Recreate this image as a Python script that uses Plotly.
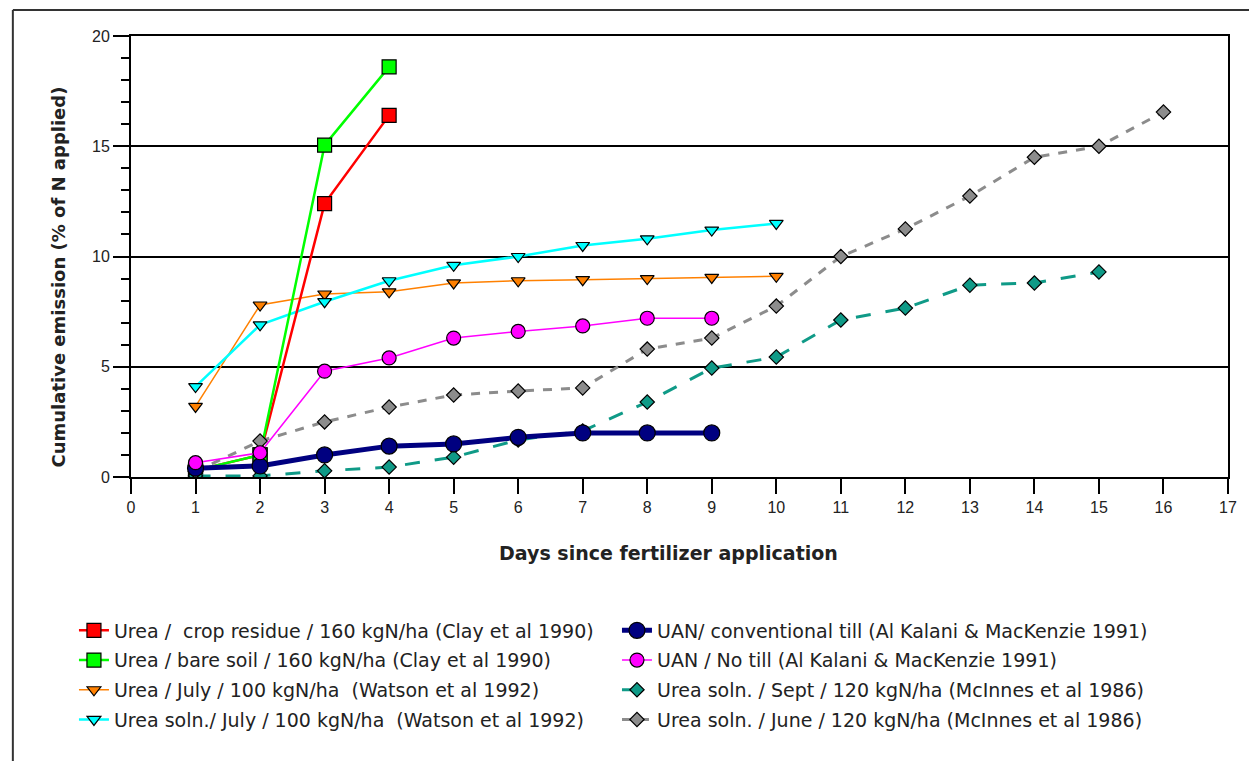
import plotly.graph_objects as go

days_4 = [1, 2, 3, 4]
days_9 = [1, 2, 3, 4, 5, 6, 7, 8, 9]
days_10 = [1, 2, 3, 4, 5, 6, 7, 8, 9, 10]
days_15 = list(range(1, 16))
days_16 = list(range(1, 17))

urea_residue = [0.3, 1.0, 12.4, 16.4]
urea_bare = [0.3, 1.0, 15.05, 18.6]
urea_july = [3.2, 7.8, 8.3, 8.4, 8.8, 8.9, 8.95, 9.0, 9.05, 9.1]
urea_soln_july = [4.1, 6.9, 7.95, 8.9, 9.6, 10.0, 10.5, 10.8, 11.2, 11.5]
uan_conv = [0.4, 0.5, 1.0, 1.4, 1.5, 1.8, 2.0, 2.0, 2.0]
uan_notill = [0.65, 1.1, 4.8, 5.4, 6.3, 6.6, 6.85, 7.2, 7.2]
soln_sept = [0.05, 0.05, 0.28, 0.45, 0.9, 1.68, 2.09, 3.4, 4.94, 5.44, 7.12, 7.66, 8.7, 8.8, 9.3]
soln_june = [0.25, 1.63, 2.5, 3.17, 3.72, 3.9, 4.04, 5.8, 6.3, 7.75, 10.0, 11.25, 12.74, 14.5, 15.0, 16.55]

labels = [
    "Urea /  crop residue / 160 kgN/ha (Clay et al 1990)",
    "Urea / bare soil / 160 kgN/ha (Clay et al 1990)",
    "Urea / July / 100 kgN/ha  (Watson et al 1992)",
    "Urea soln./ July / 100 kgN/ha  (Watson et al 1992)",
    "UAN/ conventional till (Al Kalani & MacKenzie 1991)",
    "UAN / No till (Al Kalani & MacKenzie 1991)",
    "Urea soln. / Sept / 120 kgN/ha (McInnes et al 1986)",
    "Urea soln. / June / 120 kgN/ha (McInnes et al 1986)",
]

x_title = "Days since fertilizer application"
y_title = "Cumulative emission (% of N applied)"

x_ticks = list(range(0, 18))
y_ticks = [0, 5, 10, 15, 20]

fig = go.Figure()

def add(x, y, name, color, width, dash, symbol, size, legend, rank):
    fig.add_trace(go.Scatter(
        x=x, y=y, name=name, mode="lines+markers",
        line=dict(color=color, width=width, dash=dash),
        marker=dict(symbol=symbol, size=size, color=color,
                    line=dict(color="black", width=1.2)),
        legend=legend, legendrank=rank, legendgroup=name,
    ))

add(days_10, urea_july, labels[2], "#ff8000", 1.5, "solid", "triangle-down", 12, "legend", 3)
add(days_10, urea_soln_july, labels[3], "#00ffff", 2.5, "solid", "triangle-down", 12, "legend", 4)
add(days_4, urea_residue, labels[0], "#ff0000", 2.5, "solid", "square", 14, "legend", 1)
add(days_4, urea_bare, labels[1], "#00ff00", 2.5, "solid", "square", 14, "legend", 2)
add(days_15, soln_sept, labels[6], "#0f9a87", 3, "longdash", "diamond", 11, "legend2", 3)
add(days_16, soln_june, labels[7], "#8c8c8c", 3, "dash", "diamond", 11, "legend2", 4)
add(days_9, uan_conv, labels[4], "#000080", 5, "solid", "circle", 16, "legend2", 1)
add(days_9, uan_notill, labels[5], "#ff00ff", 1.5, "solid", "circle", 14, "legend2", 2)

legend_font = "DejaVu Sans, Liberation Sans, sans-serif"
tick_font = "Liberation Sans, Arial, sans-serif"
text_color = "#222222"

fig.update_layout(
    width=1249, height=761,
    margin=dict(l=131, r=13, t=36, b=284),
    paper_bgcolor="white", plot_bgcolor="white",
    font=dict(family=tick_font, size=16, color=text_color),
    showlegend=True,
    legend=dict(x=-0.052, y=-0.305, xanchor="left", yanchor="top",
                font=dict(family=legend_font, size=19, color=text_color),
                itemwidth=30, tracegroupgap=2,
                traceorder="grouped", bgcolor="rgba(0,0,0,0)"),
    legend2=dict(x=0.443, y=-0.305, xanchor="left", yanchor="top",
                 font=dict(family=legend_font, size=19, color=text_color),
                 itemwidth=30, tracegroupgap=2,
                 traceorder="grouped", bgcolor="rgba(0,0,0,0)"),
    xaxis=dict(
        range=[0, 17], tickvals=x_ticks, ticktext=[str(v) for v in x_ticks],
        showgrid=False, zeroline=False, showline=True, linecolor="black",
        linewidth=2, mirror=True, ticks="outside", ticklen=15, tickwidth=1.5,
        tickcolor="black", tickfont=dict(family=tick_font, size=16, color=text_color),
    ),
    yaxis=dict(
        range=[0, 20], tickvals=y_ticks, ticktext=[str(v) for v in y_ticks],
        showgrid=True, gridcolor="black", gridwidth=1.5, zeroline=False,
        showline=True, linecolor="black", linewidth=2, mirror=True,
        ticks="outside", ticklen=16, tickwidth=1.5, tickcolor="black",
        tickfont=dict(family=tick_font, size=16, color=text_color),
        minor=dict(dtick=1, ticks="outside", ticklen=8, tickwidth=1.5,
                   tickcolor="black", showgrid=False),
    ),
    annotations=[
        dict(text="<b>" + x_title + "</b>", xref="paper", yref="paper",
             x=(672 - 131) / 1105, y=(477 - 553) / 441, showarrow=False,
             xanchor="center", yanchor="middle",
             font=dict(family=legend_font, size=19, color=text_color)),
        dict(text="<b>" + y_title + "</b>", xref="paper", yref="paper",
             x=(57 - 131) / 1105, y=(477 - 277) / 441, showarrow=False,
             xanchor="center", yanchor="middle", textangle=-90,
             font=dict(family=legend_font, size=18, color=text_color)),
    ],
    shapes=[
        dict(type="line", xref="paper", yref="paper", x0=-0.1077, x1=1.02,
             y0=1.059, y1=1.059, line=dict(color="#333333", width=2)),
        dict(type="line", xref="paper", yref="paper", x0=-0.1077, x1=-0.1077,
             y0=1.059, y1=-0.66, line=dict(color="#333333", width=2)),
    ],
)

fig.write_html("out.html", config={"displayModeBar": False},
               post_script="document.body.style.margin='0';")
